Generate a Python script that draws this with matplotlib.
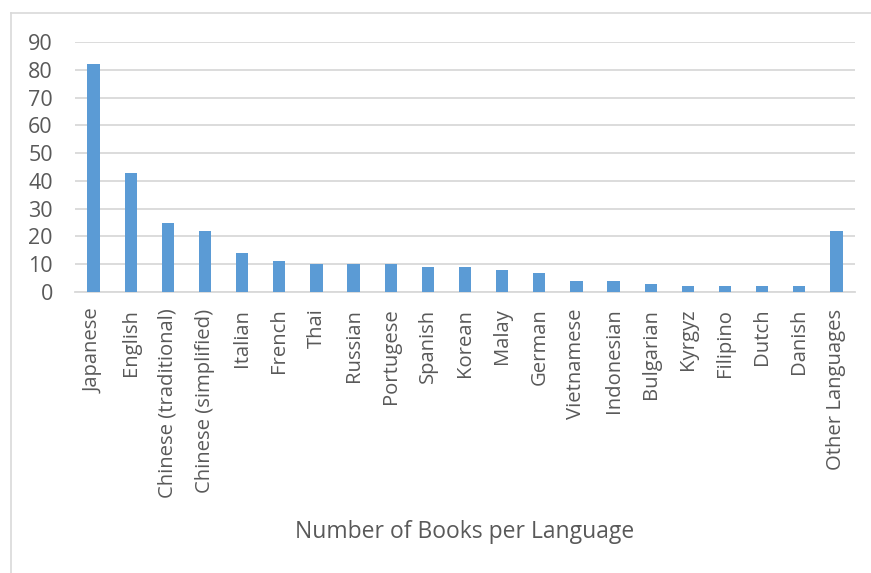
import matplotlib.pyplot as plt
from matplotlib.lines import Line2D

# Dados do gráfico
idiomas = ['Japanese', 'English', 'Chinese (traditional)', 'Chinese (simplified)',
           'Italian', 'French', 'Thai', 'Russian', 'Portugese', 'Spanish', 'Korean',
           'Malay', 'German', 'Vietnamese', 'Indonesian', 'Bulgarian', 'Kyrgyz',
           'Filipino', 'Dutch', 'Danish', 'Other Languages']
livros = [82, 43, 25, 22, 14, 11, 10, 10, 10, 9, 9, 8, 7, 4, 4, 3, 2, 2, 2, 2, 22]
yticks = [0, 10, 20, 30, 40, 50, 60, 70, 80, 90]

plt.rcParams['font.family'] = ['Open Sans', 'DejaVu Sans']
texto = '#595959'

fig = plt.figure(figsize=(8.71, 5.73), dpi=100)
ax = fig.add_axes([75 / 871, 1 - 292 / 573, 780 / 871, 250 / 573])

ax.bar(range(len(idiomas)), livros, width=0.33, color='#5B9BD5', zorder=3)
ax.set_xlim(-0.5, len(idiomas) - 0.5)
ax.set_ylim(0, 90)
ax.set_yticks(yticks)
ax.set_xticks(range(len(idiomas)))
ax.set_xticklabels(idiomas, rotation=90, fontsize=14.6, color=texto)
ax.tick_params(axis='y', labelsize=15.5, colors=texto, length=0, pad=16)
ax.tick_params(axis='x', length=0, pad=12)
ax.grid(axis='y', color='#D9D9D9', linewidth=1.3, zorder=0)
for s in ['top', 'right', 'left']:
    ax.spines[s].set_visible(False)
ax.spines['bottom'].set_color('#D9D9D9')
ax.spines['bottom'].set_linewidth(1.3)

# título do eixo x
fig.text(465 / 871, 1 - 532 / 573, 'Number of Books per Language', fontsize=16.5,
         color=texto, ha='center', va='center')

# moldura do gráfico
fig.add_artist(Line2D([11 / 871, 11 / 871], [0, 1 - 13 / 573], color='#D9D9D9', lw=1.2))
fig.add_artist(Line2D([11 / 871, 1], [1 - 13 / 573, 1 - 13 / 573], color='#D9D9D9', lw=1.2))

fig.savefig('out.png', dpi=100)
